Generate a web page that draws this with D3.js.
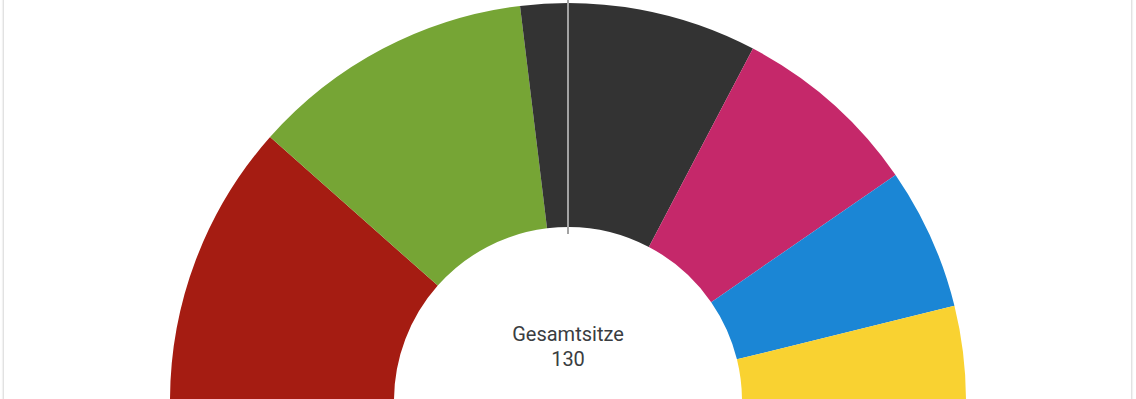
<!DOCTYPE html>
<html>
<head>
<meta charset="utf-8">
<script src="https://cdn.jsdelivr.net/npm/d3@7"></script>
<style>
  html, body { margin: 0; padding: 0; background: #fff; overflow: hidden; }
  #chart { position: relative; width: 1136px; height: 399px; }
  #card {
    position: absolute; left: 3px; top: -2px; width: 1127px; height: 410px;
    border-left: 1px solid #e2e2e2; border-right: 1px solid #e2e2e2;
    box-shadow: 1px 0 1px #f2f2f2, -1px 0 1px #f2f2f2;
  }
  svg { position: absolute; left: 0; top: 0; }
</style>
</head>
<body>
<div id="chart"><div id="card"></div></div>
<script>
// seats per party, left to right
const parties = ["SPD", "Grüne", "CDU", "Linke", "AfD", "FDP"];
const seats = [30, 30, 25, 20, 15, 10];
const colors = ["#a51c12", "#76a535", "#333333", "#c5286a", "#1b86d5", "#f9d231"];
const totalLabel = "Gesamtsitze";

{ // start block scope

  const width = 1136,
    height = 399;

  const cx = 568, cy = 401;
  const outerR = 398, innerR = 174;

  const svg = d3.select("#chart")
    .append("svg")
    .attr("width", width)
    .attr("height", height);

  const g = svg.append("g")
    .attr("transform", `translate(${cx},${cy})`);

  const pie = d3.pie()
    .sort(null)
    .startAngle(-Math.PI / 2)
    .endAngle(Math.PI / 2)
    .value(d => d.seats);

  const arc = d3.arc()
    .innerRadius(innerR)
    .outerRadius(outerR);

  const color = d3.scaleOrdinal()
    .domain(parties)
    .range(colors);

  const data = parties.map((p, i) => ({ name: p, seats: seats[i] }));

  // segments
  g.selectAll("path")
    .data(pie(data))
    .join("path")
    .attr("d", arc)
    .attr("fill", d => color(d.data.name));

  // majority line
  g.append("line")
    .attr("x1", 0)
    .attr("x2", 0)
    .attr("y1", -outerR - 5)
    .attr("y2", -innerR + 7)
    .attr("stroke", "#a3a3a3")
    .attr("stroke-width", 2);

  // total in the middle
  const total = d3.sum(seats);
  g.append("text")
    .attr("x", 0)
    .attr("y", 341 - cy)
    .attr("text-anchor", "middle")
    .attr("font-family", "Roboto, sans-serif")
    .attr("font-size", "20px")
    .attr("fill", "#3a3d41")
    .text(totalLabel);

  g.append("text")
    .attr("x", 0)
    .attr("y", 366 - cy)
    .attr("text-anchor", "middle")
    .attr("font-family", "Roboto, sans-serif")
    .attr("font-size", "20px")
    .attr("fill", "#3a3d41")
    .text(total);

} // end block scope
</script>
</body>
</html>
